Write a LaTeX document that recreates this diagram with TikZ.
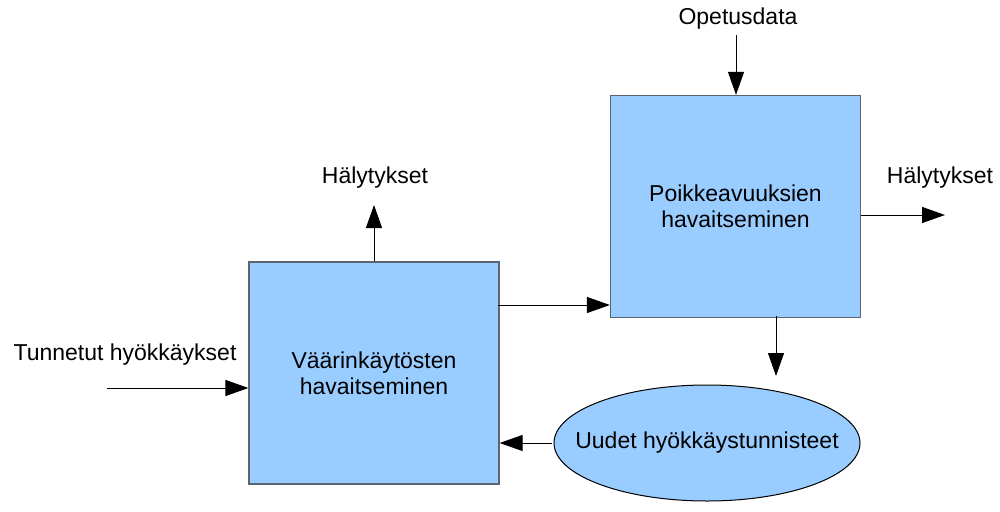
\documentclass[tikz,border=0pt]{standalone}
\usepackage{fontspec}
\setmainfont{Liberation Sans}
\usetikzlibrary{arrows.meta,shapes.geometric}
\definecolor{boxfill}{HTML}{99CCFF}
\definecolor{boxline}{HTML}{5A6570}
\begin{document}
\begin{tikzpicture}[x=1pt,y=-1pt,
  every node/.style={font=\fontsize{23}{26}\selectfont, align=center, inner sep=0pt},
  blockbox/.style={draw=boxline, line width=1.2pt, fill=boxfill, minimum width=250pt, minimum height=222pt},
  roundbox/.style={ellipse, draw=black, line width=1pt, fill=boxfill, inner xsep=-24pt, inner ysep=0pt, minimum width=306pt, minimum height=116pt},
  flow/.style={line width=1pt, -{Triangle[length=23pt,width=16pt]}}]
\useasboundingbox (0,0) rectangle (1000,511);
% blocks
\node[blockbox] (mis) at (374,373) {Väärinkäytösten\\havaitseminen};
\node[blockbox] (ano) at (735.5,206.5) {Poikkeavuuksien\\havaitseminen};
\node[roundbox] (sig) at (707,443) {Uudet hyökkäystunnisteet};
% labels
\node (known) at (125,355) {Tunnetut hyökkäykset};
\node (alarm1) at (375,178) {Hälytykset};
\node (train) at (738,19) {Opetusdata};
\node (alarm2) at (940,178) {Hälytykset};
\coordinate (kin) at (107,388);
\coordinate (a1) at (374,205);
\coordinate (tin) at (736,35);
\coordinate (a2) at (945,215);
% connectors
\draw[flow] (kin) -- (mis.west |- kin);
\draw[flow] (mis.north -| a1) -- (a1);
\draw[flow] (tin) -- (ano.north -| tin);
\draw[flow] (ano.east |- a2) -- (a2);
\draw[flow] (mis.east |- 0,305) ++(-2,0) -- (ano.west |- 0,305);
\draw[flow] ([yshift=2pt]ano.south -| 776,0) -- (776,376);
\draw[flow] (sig.west) ++(-2,0) -- (mis.east |- sig.west);
\end{tikzpicture}
\end{document}
